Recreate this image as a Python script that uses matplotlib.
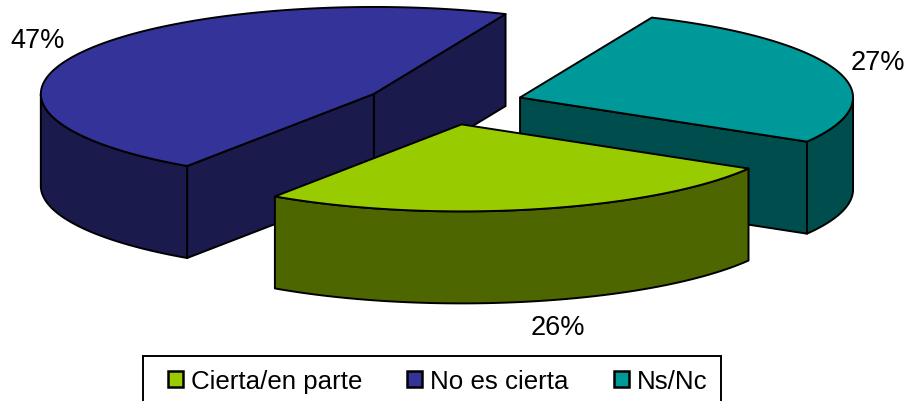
import numpy as np
import matplotlib
matplotlib.use("Agg")
import matplotlib.pyplot as plt
from matplotlib.patches import Patch, Polygon, Rectangle

plt.rcParams['font.family'] = ['Liberation Sans', 'DejaVu Sans']

# data
categories = ["Cierta/en parte", "No es cierta", "Ns/Nc"]
values = [26, 47, 27]
top_colors = ["#99CC00", "#333399", "#009999"]
side_colors = ["#4D6600", "#1A1A4D", "#004D4D"]

# pie geometry, in pixels
cx, cy = 444, 105
rx, ry = 333, 87
depth = 92
explode = 80
start_angle = -30.5
label_pos = [(558, 328), (38, 41), (878, 63)]

fig = plt.figure(figsize=(9.09, 4.02), dpi=100)
ax = fig.add_axes([0, 0, 1, 1])
ax.set_xlim(0, 909)
ax.set_ylim(402, 0)
ax.axis("off")


def arc(x0, y0, a, b):
    t = np.radians(np.linspace(a, b, 120))
    return np.column_stack([x0 + rx * np.cos(t), y0 - ry * np.sin(t)])


def face(pts, color, z):
    ax.add_patch(Polygon(pts, closed=True, facecolor=color, edgecolor="black",
                         linewidth=1.4, joinstyle="round", zorder=z))


# work out the slice angles, clockwise from the start
slices = []
angle = start_angle
for v, top, side in zip(values, top_colors, side_colors):
    sweep = v / sum(values) * 360
    slices.append((angle - sweep, angle, top, side))
    angle -= sweep

# back to front: blue, teal, green
for z, i in enumerate([1, 2, 0]):
    a, b, top, side = slices[i]
    mid = np.radians((a + b) / 2)
    x0 = cx + explode * np.cos(mid)
    y0 = cy - explode * ry / rx * np.sin(mid)
    base = z * 10

    # cut faces, only those turned to the viewer
    for ang, normal in ((a, a - 90), (b, b + 90)):
        if np.sin(np.radians(normal)) < 0:
            edge = arc(x0, y0, ang, ang)[0]
            face([(x0, y0), edge, (edge[0], edge[1] + depth), (x0, y0 + depth)], side, base + 1)

    # outer wall, only the part turned to the front
    for k in (-1, 0):
        lo = max(a, -180 + 360 * k)
        hi = min(b, 360 * k)
        if hi > lo:
            rim = arc(x0, y0, lo, hi)
            low = rim[::-1] + [0, depth]
            face(np.vstack([rim, low]), side, base + 2)

    # top
    face(np.vstack([[(x0, y0)], arc(x0, y0, a, b)]), top, base + 3)

for v, (lx, ly) in zip(values, label_pos):
    ax.text(lx, ly, f"{v}%", fontsize=19.5, ha="center", va="center", color="black")

# legend box runs off the bottom of the picture, so it is drawn on its own
ax.add_patch(Rectangle((143, 357), 578, 70, facecolor="white", edgecolor="black", linewidth=1.4))
handles = [Patch(facecolor=c, edgecolor="black", linewidth=1.8, label=n)
           for c, n in zip(top_colors, categories)]
ax.legend(handles=handles, ncol=3, loc="upper left", bbox_to_anchor=(168, 370),
          bbox_transform=ax.transData, borderaxespad=0, frameon=False, fontsize=18.6,
          handlelength=0.58, handleheight=0.58, handletextpad=0.31, columnspacing=1.74,
          borderpad=0)

fig.savefig("out.png", dpi=100)
